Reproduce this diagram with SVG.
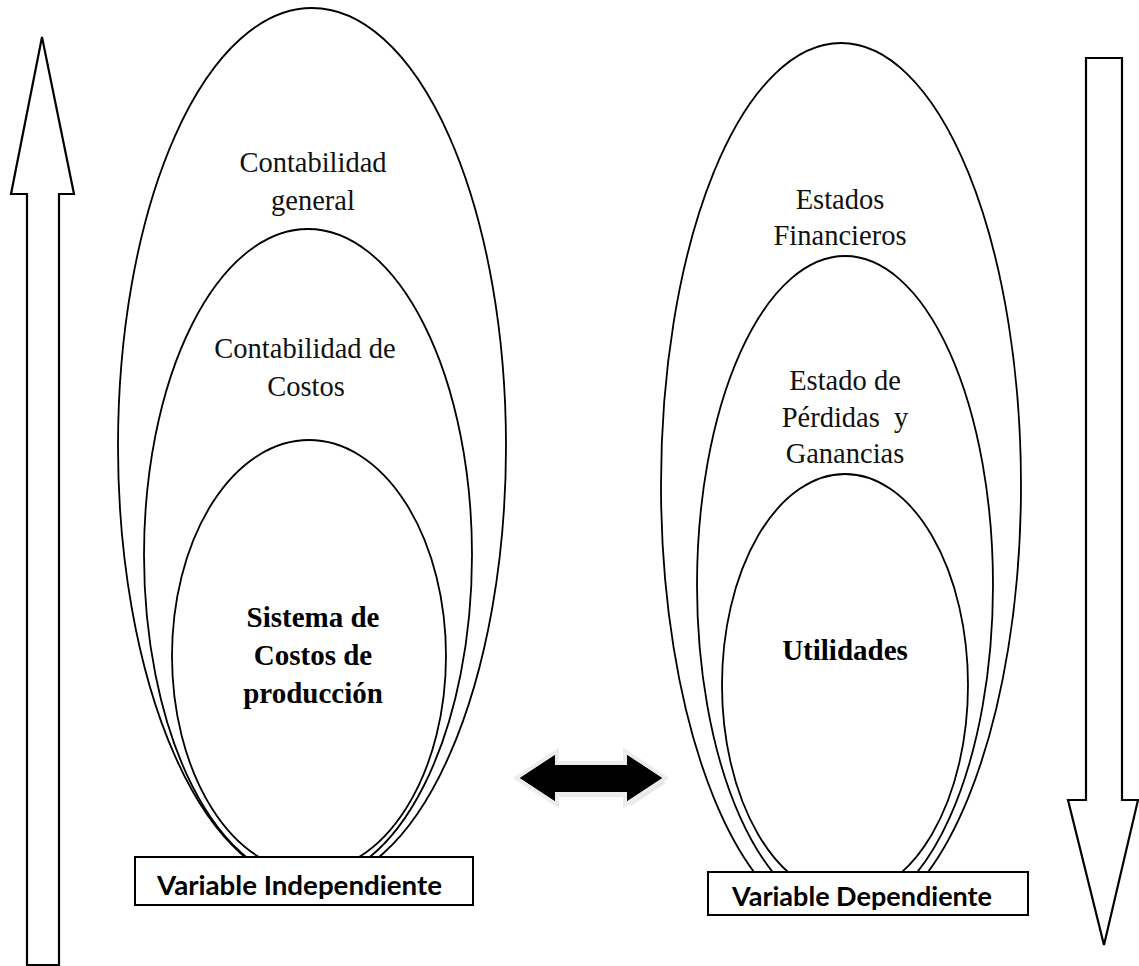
<svg xmlns="http://www.w3.org/2000/svg" width="1139" height="966" viewBox="0 0 1139 966">
<style>
.ell{fill:none;stroke:#000;stroke-width:1.8}
.big{fill:#fff;stroke:#000;stroke-width:2.2;stroke-linejoin:miter}
.t{font-family:"Liberation Serif","Times New Roman",serif;font-size:28.5px;fill:#111;text-anchor:middle}
.tb{font-family:"Liberation Serif","Times New Roman",serif;font-size:29px;font-weight:bold;fill:#000;text-anchor:middle}
.box{fill:#fff;stroke:#000;stroke-width:2}
.bt{font-family:Lato,"Liberation Sans",Arial,sans-serif;font-size:26px;font-weight:bold;fill:#000}
</style>
<defs>
<clipPath id="clipL"><rect x="0" y="0" width="560" height="858"/></clipPath>
<clipPath id="clipR"><rect x="600" y="0" width="539" height="873"/></clipPath>
</defs>
<rect width="1139" height="966" fill="#fff"/>
<g id="arrow-up">
<polygon class="big" points="42,37 74,194 59,194 59,965 27,965 27,194 11,194"/>
</g>
<g id="arrow-down">
<polygon class="big" points="1086,58 1122,58 1122,800 1138,800 1104,945 1068,800 1086,800"/>
</g>
<g id="left-group">
<g id="contabilidad-general">
<ellipse class="ell" cx="312" cy="446" rx="194" ry="438" clip-path="url(#clipL)"/>
<text class="t" x="313" y="172">Contabilidad</text>
<text class="t" x="313" y="210">general</text>
</g>
<g id="contabilidad-costos">
<ellipse class="ell" cx="308" cy="555" rx="164" ry="326" clip-path="url(#clipL)"/>
<text class="t" x="305" y="358">Contabilidad de</text>
<text class="t" x="306" y="396">Costos</text>
</g>
<g id="sistema-costos">
<ellipse class="ell" cx="309" cy="656" rx="137" ry="216" clip-path="url(#clipL)"/>
<text class="tb" x="313" y="627">Sistema de</text>
<text class="tb" x="313" y="665">Costos de</text>
<text class="tb" x="313" y="703">producción</text>
</g>
<g id="variable-independiente">
<rect class="box" x="135" y="857" width="338" height="48"/>
<text class="bt" x="157" y="895" textLength="285" lengthAdjust="spacingAndGlyphs">Variable Independiente</text>
</g>
</g>
<g id="right-group">
<g id="estados-financieros">
<ellipse class="ell" cx="841" cy="485" rx="180" ry="442" clip-path="url(#clipR)"/>
<text class="t" x="840" y="209">Estados</text>
<text class="t" x="840" y="245">Financieros</text>
</g>
<g id="estado-pyg">
<ellipse class="ell" cx="845" cy="585" rx="148" ry="329" clip-path="url(#clipR)"/>
<text class="t" x="845" y="390">Estado de</text>
<text class="t" x="845" y="427" xml:space="preserve">Pérdidas  y</text>
<text class="t" x="845" y="463">Ganancias</text>
</g>
<g id="utilidades">
<ellipse class="ell" cx="845" cy="685" rx="123" ry="211" clip-path="url(#clipR)"/>
<text class="tb" x="845" y="660">Utilidades</text>
</g>
<g id="variable-dependiente">
<rect class="box" x="708" y="872" width="320" height="43"/>
<text class="bt" x="732" y="906" textLength="260" lengthAdjust="spacingAndGlyphs">Variable Dependiente</text>
</g>
</g>
<g id="connectors">
<g id="double-arrow">
<polygon points="524,783 559,760 559,770 631,770 631,760 666,783 631,806 631,797 559,797 559,806" fill="#d8d8d8" opacity="0.6"/>
<polygon points="520,778 555,755 555,765 627,765 627,755 662,778 627,801 627,792 555,792 555,801" fill="#000" stroke="#ececec" stroke-width="8" stroke-linejoin="miter" paint-order="stroke"/>
<polygon points="520,778 555,755 555,765 627,765 627,755 662,778 627,801 627,792 555,792 555,801" fill="#000"/>
</g>
</g>
</svg>
